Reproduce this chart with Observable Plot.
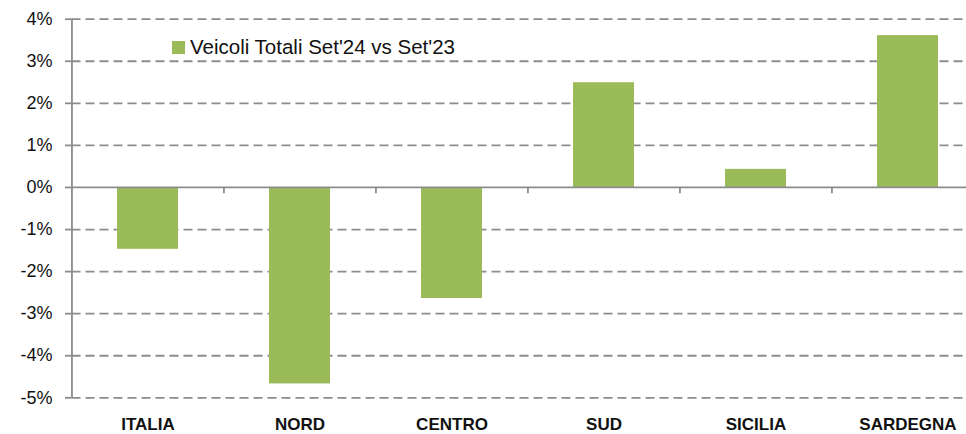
<!DOCTYPE html>
<html>
<head>
<meta charset="utf-8">
<script src="https://cdn.jsdelivr.net/npm/d3@7"></script>
<script src="https://cdn.jsdelivr.net/npm/@observablehq/plot@0.6"></script>
<style>
  html, body { margin: 0; padding: 0; background: #fff; }
  #wrap { position: relative; width: 966px; height: 434px; overflow: hidden; }
  #legend { position: absolute; left: 172px; top: 35px; font-family: "Liberation Sans", Arial, sans-serif; font-size: 20.5px; color: #111; display: flex; align-items: center; white-space: nowrap; }
  #legend .sw { width: 13px; height: 13px; background: #9bbb59; margin-right: 5px; }
  svg text { font-family: "Liberation Sans", Arial, sans-serif; }
</style>
</head>
<body>
<div id="wrap"></div>
<script>
const categories = ["ITALIA", "NORD", "CENTRO", "SUD", "SICILIA", "SARDEGNA"];
const values = [-1.47, -4.67, -2.64, 2.49, 0.43, 3.61];
const yTicks = [-5, -4, -3, -2, -1, 0, 1, 2, 3, 4];
const seriesName = "Veicoli Totali Set'24 vs Set'23";

const data = categories.map((c, i) => ({cat: c, value: values[i]}));

const left = 71.5, right = 984;
const step = (right - left) / categories.length;
const grid = "#8c8c8c";

const chart = Plot.plot({
  width: 966,
  height: 434,
  marginLeft: left,
  marginRight: 0,
  marginTop: 18.7,
  marginBottom: 36.7,
  x: {domain: categories, range: [left, right], paddingInner: 0.6, paddingOuter: 0.3},
  y: {domain: [-5, 4]},
  marks: [
    Plot.ruleY(yTicks.filter(d => d !== 0), {stroke: grid, strokeWidth: 1.8, strokeDasharray: "9,5"}),
    Plot.barY(data, {x: "cat", y: "value", fill: "#9bbb59"}),
    Plot.ruleY([0], {stroke: grid, strokeWidth: 1.8}),
    Plot.ruleX(categories.slice(1), {x: d => d, dx: -step / 2, y1: 0, y2: -0.15, stroke: grid, strokeWidth: 1.8}),
    Plot.ruleX([categories[0]], {x: d => d, dx: -step / 2, y1: -5, y2: 4, stroke: grid, strokeWidth: 1.8}),
    Plot.axisY({ticks: yTicks, tickFormat: d => d + "%", tickSize: 6.5, tickPadding: 13, stroke: grid, strokeWidth: 1.8, fontSize: 18, fill: "#111", label: null}),
    Plot.axisX({tickSize: 0, tickPadding: 20, fontSize: 17, fontWeight: "bold", fill: "#111", label: null})
  ]
});

const wrap = document.getElementById("wrap");
wrap.appendChild(chart);
const legend = document.createElement("div");
legend.id = "legend";
legend.innerHTML = '<div class="sw"></div><span></span>';
legend.querySelector("span").textContent = seriesName;
wrap.appendChild(legend);
</script>
</body>
</html>
